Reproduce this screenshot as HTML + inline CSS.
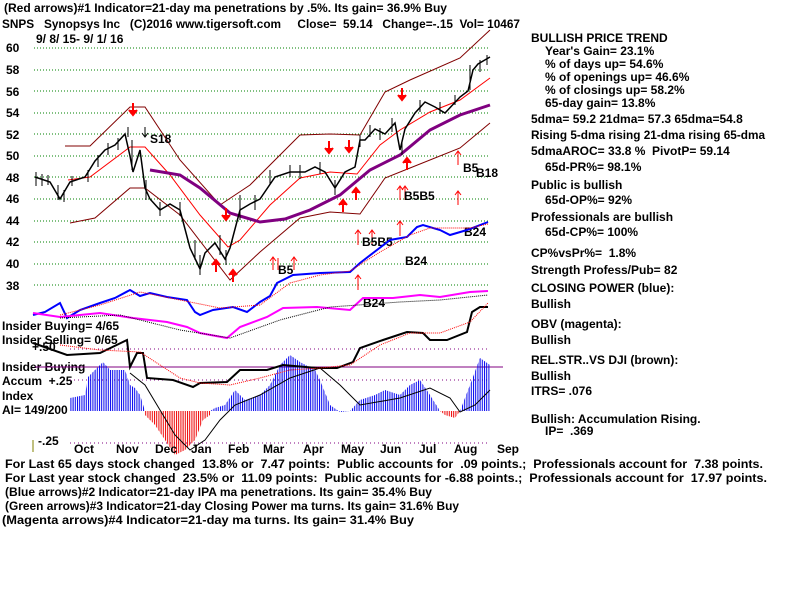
<!DOCTYPE html>
<html><head><meta charset="utf-8"><style>
html,body{margin:0;padding:0;background:#fff}
svg{display:block}
text{font-family:"Liberation Sans",sans-serif;font-weight:bold;font-size:12px;fill:#000;white-space:pre}
</style></head><body>
<svg width="800" height="600" viewBox="0 0 800 600" xmlns="http://www.w3.org/2000/svg" xml:space="preserve">
<defs>
<pattern id="bs" width="2.2" height="4" patternUnits="userSpaceOnUse"><rect width="1" height="4" fill="#0000ee"/></pattern>
<pattern id="rs" width="2.2" height="4" patternUnits="userSpaceOnUse"><rect width="1" height="4" fill="#ee0000"/></pattern>
</defs>
<text x="4" y="12" textLength="443" lengthAdjust="spacingAndGlyphs">(Red arrows)#1 Indicator=21-day ma penetrations by .5%. Its gain= 36.9% Buy</text>
<text x="2" y="28" textLength="518" lengthAdjust="spacingAndGlyphs">SNPS   Synopsys Inc   (C)2016 www.tigersoft.com     Close=  59.14   Change=-.15  Vol= 10467</text>
<text x="36" y="43">9/ 8/ 15- 9/ 1/ 16</text>
<g>
<text x="6" y="52">60</text><text x="6" y="74">58</text><text x="6" y="96">56</text><text x="6" y="117">54</text><text x="6" y="139">52</text><text x="6" y="160">50</text><text x="6" y="182">48</text><text x="6" y="203">46</text><text x="6" y="225">44</text><text x="6" y="246">42</text><text x="6" y="268">40</text><text x="6" y="290">38</text>
</g>
<g stroke="#008000" stroke-dasharray="1,2" stroke-width="1">
<line x1="34" y1="48" x2="490" y2="48"/><line x1="34" y1="70" x2="490" y2="70"/><line x1="34" y1="91" x2="490" y2="91"/><line x1="34" y1="113" x2="490" y2="113"/><line x1="34" y1="134" x2="490" y2="134"/><line x1="34" y1="156" x2="490" y2="156"/><line x1="34" y1="177" x2="490" y2="177"/><line x1="34" y1="199" x2="490" y2="199"/><line x1="34" y1="221" x2="490" y2="221"/><line x1="34" y1="242" x2="490" y2="242"/><line x1="34" y1="264" x2="490" y2="264"/><line x1="34" y1="285" x2="490" y2="285"/>
</g>
<g fill="none" stroke="#800000" stroke-width="1">
<polyline points="65,146 90,146 130,107 145,107 180,160 220,205 250,185 300,135 330,134 360,135 385,92 410,80 460,58 490,30"/>
<polyline points="70,223 95,218 130,188 145,188 180,215 230,280 260,252 300,218 330,212 360,214 385,178 410,168 460,148 490,123"/>
</g>
<polyline fill="none" stroke="#ff0000" stroke-width="1" points="68,180 90,177 130,147 145,147 170,175 200,215 228,247 240,240 270,205 300,178 330,172 357,174 380,145 400,130 430,112 460,100 490,78"/>
<polyline fill="none" stroke="#800080" stroke-width="3" points="150,170 180,175 200,188 230,213 260,222 285,219 310,210 340,195 370,170 400,155 430,130 460,115 490,105"/>
<polyline fill="none" stroke="#000" stroke-width="1.5" points="35,177 50,182 60,199 70,182 85,177 95,161 105,150 115,145 125,134 130,156 133,172 140,150 145,188 150,199 160,210 170,204 180,210 190,248 200,269 205,253 215,243 225,259 230,248 240,210 250,204 260,199 275,177 290,172 305,172 315,167 325,172 335,188 345,172 355,167 360,140 365,140 375,129 385,134 395,123 400,150 405,129 415,113 425,102 435,107 445,113 460,97 468,91 473,70 478,64 490,57"/>
<g stroke="#000" stroke-width="1"><path d="M36,172 v14 M42,174 v12 M48,175 v10 M58,185 v15 M64,190 v12 M72,176 v10 M88,170 v12 M98,155 v12 M108,143 v12 M118,138 v12 M128,127 v10 M132,140 v30 M146,180 v20 M160,202 v14 M180,202 v14 M195,240 v20 M200,255 v20 M220,235 v20 M226,250 v15 M240,195 v25 M255,195 v15 M270,170 v15 M290,165 v12 M300,165 v14 M320,162 v12 M335,180 v15 M360,135 v12 M370,125 v12 M380,128 v12 M392,118 v14 M402,140 v15 M420,100 v12 M440,102 v12 M455,95 v10 M470,65 v25 M480,60 v12 M487,55 v10"/></g>
<g fill="#f00" stroke="#f00" stroke-width="2"><path d="M133,103 v10 M129,110 l4,5 4,-5"/><path d="M226,208 v10 M222,215 l4,5 4,-5"/><path d="M329,141 v10 M325,148 l4,5 4,-5"/><path d="M349,140 v10 M345,147 l4,5 4,-5"/><path d="M402,88 v10 M398,95 l4,5 4,-5"/>
<path d="M216,272 v-10 M212,265 l4,-5 4,5"/><path d="M233,282 v-10 M229,275 l4,-5 4,5"/><path d="M343,212 v-10 M339,205 l4,-5 4,5"/><path d="M356,200 v-10 M352,193 l4,-5 4,5"/><path d="M407,170 v-10 M403,163 l4,-5 4,5"/></g>
<g fill="none" stroke="#f00" stroke-width="1"><path d="M400,200 v-13 M397,190 l3,-4 3,4 M405,200 v-13 M402,190 l3,-4 3,4 M458,165 v-13 M455,155 l3,-4 3,4 M458,205 v-13 M455,195 l3,-4 3,4 M400,236 v-14 M397,225 l3,-4 3,4 M358,245 v-14 M355,234 l3,-4 3,4 M372,245 v-14 M369,234 l3,-4 3,4 M273,270 v-12 M270,261 l3,-4 3,4 M278,270 v-12 M294,270 v-12 M291,261 l3,-4 3,4 M358,290 v-14 M355,279 l3,-4 3,4"/><path d="M145,127 v10 M142,133 l3,4 3,-4" stroke="#000"/></g>
<text x="150" y="143" font-size="14">S18</text>
<text x="278" y="274">B5</text>
<text x="362" y="246">B5B5</text>
<text x="404" y="200">B5B5</text>
<text x="463" y="172">B5</text><text x="476" y="177">B18</text>
<text x="464" y="236" font-size="17" font-weight="normal">B24</text>
<text x="405" y="265" font-size="17" font-weight="normal">B24</text>
<text x="363" y="307" font-size="17" font-weight="normal">B24</text>
<polyline fill="none" stroke="#0000ff" stroke-width="2" points="33,315 45,312 60,303 67,318 80,310 100,303 115,298 130,290 140,296 150,293 167,297 187,300 195,312 200,315 213,310 233,307 247,312 260,302 270,296 277,283 293,275 320,273 350,272 360,263 373,253 390,240 407,237 417,227 423,225 440,230 450,235 467,230 488,222"/>
<polyline fill="none" stroke="#ff0000" stroke-width="1" stroke-dasharray="1,1" points="60,315 100,305 140,292 180,300 220,308 260,305 290,283 320,275 350,271 380,252 410,235 430,228 470,228 488,224"/>
<polyline fill="none" stroke="#ff00ff" stroke-width="2" points="33,313 60,317 100,313 133,318 167,322 187,327 200,333 227,338 240,327 267,317 283,308 317,307 350,310 363,298 393,298 420,295 440,297 470,292 488,291"/>
<polyline fill="none" stroke="#000" stroke-width="1" stroke-dasharray="1,1" points="60,318 120,315 180,330 230,338 280,320 330,307 400,302 440,300 488,295"/>
<text x="2" y="330">Insider Buying= 4/65</text>
<text x="2" y="344">Insider Selling= 0/65</text>
<text x="32" y="351">+.50</text>
<text x="2" y="371">Insider Buying</text>
<text x="2" y="385">Accum  +.25</text>
<text x="2" y="400">Index</text>
<text x="2" y="414">AI= 149/200</text>
<text x="38" y="445">-.25</text>
<line x1="33" y1="440" x2="33" y2="452" stroke="#808000"/>
<g stroke="#800080" stroke-dasharray="1,3"><line x1="70" y1="349" x2="490" y2="349"/><line x1="70" y1="380" x2="490" y2="380"/><line x1="70" y1="443" x2="490" y2="443"/></g>
<line x1="35" y1="367" x2="503" y2="367" stroke="#800080"/>
<polygon fill="url(#bs)" points="70,411 70,398 85,395 88,377 100,365 103,362 110,370 125,370 130,385 135,388 140,395 145,411 210,411 215,408 225,405 235,390 240,395 245,400 260,395 270,385 280,365 290,355 300,362 315,370 320,380 330,405 340,412 350,411 360,400 375,395 385,390 400,395 410,385 420,380 430,395 440,411 460,411 470,385 480,358 490,365 490,411"/>
<polygon fill="url(#rs)" points="145,411 145,415 155,425 165,440 175,455 185,450 195,440 203,420 210,415 210,411"/>
<polygon fill="url(#rs)" points="440,411 445,415 455,418 460,411"/>
<polyline fill="none" stroke="#000" stroke-width="1" points="130,373 145,385 160,410 175,435 190,450 205,440 220,420 235,405 260,395 290,378 320,368 340,385 360,405 400,398 430,388 450,398 460,412 475,405 490,390"/>
<polyline fill="none" stroke="#000" stroke-width="2" points="33,343 67,355 100,353 127,340 130,367 137,353 143,353 147,378 173,380 193,387 200,383 227,382 240,370 267,370 283,365 317,368 337,368 353,362 360,348 383,340 407,332 423,333 430,340 447,340 467,332 472,312 480,307 488,307"/>
<polyline fill="none" stroke="#ff0000" stroke-width="1" stroke-dasharray="1,1" points="60,345 100,350 140,352 160,365 180,378 200,383 230,385 260,378 290,370 320,368 350,365 380,345 410,333 440,333 470,322 488,303"/>
<g><text x="74" y="453">Oct</text><text x="116" y="453">Nov</text><text x="155" y="453">Dec</text><text x="191" y="453">Jan</text><text x="228" y="453">Feb</text><text x="263" y="453">Mar</text><text x="303" y="453">Apr</text><text x="341" y="453">May</text><text x="380" y="453">Jun</text><text x="419" y="453">Jul</text><text x="454" y="453">Aug</text><text x="497" y="453">Sep</text></g>
<text x="5" y="468" textLength="758" lengthAdjust="spacingAndGlyphs">For Last 65 days stock changed  13.8% or  7.47 points:  Public accounts for  .09 points.;  Professionals account for  7.38 points.</text>
<text x="5" y="482" textLength="762" lengthAdjust="spacingAndGlyphs">For Last year stock changed  23.5% or  11.09 points:  Public accounts for -6.88 points.;  Professionals account for  17.97 points.</text>
<text x="5" y="496" textLength="427" lengthAdjust="spacingAndGlyphs">(Blue arrows)#2 Indicator=21-day IPA ma penetrations. Its gain= 35.4% Buy</text>
<text x="5" y="510" textLength="454" lengthAdjust="spacingAndGlyphs">(Green arrows)#3 Indicator=21-day Closing Power ma turns. Its gain= 31.6% Buy</text>
<text x="2" y="524" textLength="412" lengthAdjust="spacingAndGlyphs">(Magenta arrows)#4 Indicator=21-day ma turns. Its gain= 31.4% Buy</text>
<g>
<text x="531" y="42">BULLISH PRICE TREND</text>
<text x="545" y="55">Year's Gain= 23.1%</text>
<text x="545" y="68">% of days up= 54.6%</text>
<text x="545" y="81">% of openings up= 46.6%</text>
<text x="545" y="94">% of closings up= 58.2%</text>
<text x="545" y="107">65-day gain= 13.8%</text>
<text x="531" y="123">5dma= 59.2 21dma= 57.3 65dma=54.8</text>
<text x="531" y="139" textLength="234" lengthAdjust="spacingAndGlyphs">Rising 5-dma rising 21-dma rising 65-dma</text>
<text x="531" y="155">5dmaAROC= 33.8 %  PivotP= 59.14</text>
<text x="545" y="171">65d-PR%= 98.1%</text>
<text x="531" y="189">Public is bullish</text>
<text x="545" y="204">65d-OP%= 92%</text>
<text x="531" y="221">Professionals are bullish</text>
<text x="545" y="236">65d-CP%= 100%</text>
<text x="531" y="257">CP%vsPr%=  1.8%</text>
<text x="531" y="274">Strength Profess/Pub= 82</text>
<text x="531" y="292">CLOSING POWER (blue):</text>
<text x="531" y="308">Bullish</text>
<text x="531" y="328">OBV (magenta):</text>
<text x="531" y="344">Bullish</text>
<text x="531" y="364">REL.STR..VS DJI (brown):</text>
<text x="531" y="380">Bullish</text>
<text x="531" y="395">ITRS= .076</text>
<text x="531" y="423">Bullish: Accumulation Rising.</text>
<text x="545" y="435">IP=  .369</text>
</g>
</svg>
</body></html>
